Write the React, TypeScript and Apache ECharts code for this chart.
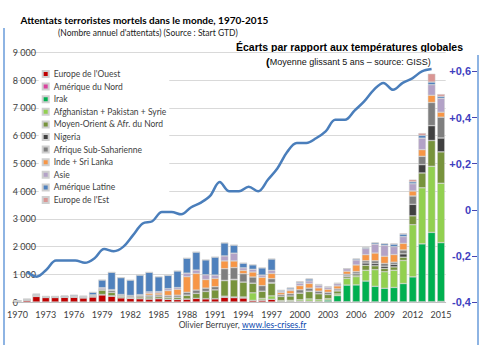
import React, { useEffect, useRef } from 'react';
import * as echarts from 'echarts';

const years = [
  '1970', '1971', '1972', '1973', '1974', '1975', '1976', '1977', '1978', '1979',
  '1980', '1981', '1982', '1983', '1984', '1985', '1986', '1987', '1988', '1989',
  '1990', '1991', '1992', '1993', '1994', '1995', '1996', '1997', '1998', '1999',
  '2000', '2001', '2002', '2003', '2004', '2005', '2006', '2007', '2008', '2009',
  '2010', '2011', '2012', '2013', '2014', '2015',
];

const seriesNames = [
  "Europe de l'Ouest",
  'Amérique du Nord',
  'Irak',
  'Afghanistan + Pakistan + Syrie',
  'Moyen-Orient & Afr. du Nord',
  'Nigeria',
  'Afrique Sub-Saharienne',
  'Inde + Sri Lanka',
  'Asie',
  'Amérique Latine',
  "Europe de l'Est",
];

const seriesColors = [
  '#C00000', '#D9439E', '#00B050', '#92D050', '#77933C', '#404040',
  '#7F7F7F', '#F79646', '#B3A2C7', '#4F81BD', '#DA9694',
];

const europeOuest = [
  20, 55, 200, 160, 160, 170, 175, 150, 185, 255,
  210, 150, 130, 120, 110, 120, 100, 90, 110, 130,
  120, 120, 170, 160, 150, 60, 70, 100, 20, 20,
  30, 30, 20, 10, 10, 10, 5, 5, 5, 5,
  5, 5, 5, 10, 10, 20,
];
const ameriqueNord = [
  10, 10, 15, 5, 5, 10, 5, 5, 5, 15,
  15, 10, 5, 5, 5, 5, 5, 5, 0, 0,
  0, 0, 10, 0, 0, 0, 0, 0, 0, 0,
  0, 0, 0, 0, 0, 0, 0, 0, 0, 0,
  0, 0, 0, 0, 0, 0,
];
const irak = [
  0, 0, 0, 0, 0, 0, 0, 0, 0, 0,
  0, 0, 0, 0, 0, 0, 0, 0, 0, 0,
  0, 0, 0, 0, 0, 0, 0, 0, 0, 0,
  0, 0, 0, 60, 220, 600, 610, 750, 560, 490,
  520, 660, 900, 2085, 2500, 2120,
];
const afghanPakSyrie = [
  0, 0, 0, 0, 0, 0, 0, 0, 0, 0,
  0, 0, 0, 0, 0, 0, 0, 0, 0, 0,
  0, 0, 30, 20, 30, 270, 60, 120, 30, 40,
  50, 80, 60, 50, 60, 240, 300, 390, 600, 595,
  620, 830, 1880, 2020, 2380, 2140,
];
const moyenOrient = [
  5, 10, 20, 10, 10, 10, 15, 15, 30, 160,
  120, 50, 40, 60, 70, 70, 70, 80, 130, 180,
  260, 320, 560, 620, 540, 350, 260, 460, 150, 160,
  240, 270, 220, 150, 110, 60, 60, 180, 140, 120,
  120, 120, 320, 535, 930, 1130,
];
const nigeria = [
  0, 0, 0, 0, 0, 0, 0, 0, 0, 0,
  0, 0, 0, 0, 0, 0, 0, 0, 10, 0,
  0, 0, 10, 20, 0, 0, 0, 20, 0, 0,
  0, 10, 0, 0, 10, 30, 60, 80, 80, 80,
  90, 120, 415, 300, 535, 500,
];
const afriqueSub = [
  5, 10, 20, 10, 10, 10, 15, 25, 30, 40,
  70, 40, 40, 50, 60, 60, 60, 70, 100, 120,
  120, 110, 420, 420, 300, 220, 200, 140, 60, 80,
  120, 110, 90, 80, 60, 60, 60, 80, 100, 100,
  80, 140, 300, 300, 835, 750,
];
const indeSriLanka = [
  0, 0, 0, 0, 0, 0, 0, 0, 0, 5,
  10, 10, 10, 10, 70, 70, 175, 215, 560, 600,
  310, 300, 280, 240, 120, 180, 300, 190, 80, 110,
  150, 170, 120, 110, 110, 110, 240, 220, 280, 260,
  275, 240, 180, 240, 260, 180,
];
const asie = [
  0, 5, 10, 0, 0, 0, 0, 0, 10, 40,
  20, 10, 10, 20, 50, 50, 70, 60, 130, 120,
  170, 120, 180, 280, 90, 100, 80, 110, 40, 50,
  90, 90, 90, 70, 80, 90, 180, 220, 320, 390,
  285, 240, 260, 415, 380, 500,
];
const ameriqueLatine = [
  15, 20, 25, 20, 20, 25, 40, 20, 90, 280,
  625, 610, 555, 705, 705, 535, 480, 600, 540, 650,
  540, 650, 470, 290, 170, 160, 260, 410, 40, 45,
  40, 70, 25, 20, 15, 5, 40, 40, 50, 60,
  90, 90, 70, 100, 95, 70,
];
const europeEst = [
  0, 0, 0, 0, 0, 0, 0, 0, 0, 0,
  0, 0, 0, 0, 0, 0, 0, 0, 0, 0,
  0, 0, 10, 10, 10, 10, 10, 10, 10, 20,
  30, 20, 20, 20, 15, 5, 15, 15, 15, 15,
  25, 30, 80, 80, 300, 80,
];

const seriesValues = [
  europeOuest, ameriqueNord, irak, afghanPakSyrie, moyenOrient, nigeria,
  afriqueSub, indeSriLanka, asie, ameriqueLatine, europeEst,
];

const tempYears = [
  1971, 1972, 1973, 1974, 1975, 1976, 1977, 1978, 1979, 1980,
  1981, 1982, 1983, 1984, 1985, 1986, 1987, 1988, 1989, 1990,
  1991, 1992, 1993, 1994, 1995, 1996, 1997, 1998, 1999, 2000,
  2001, 2002, 2003, 2004, 2005, 2006, 2007, 2008, 2009, 2010,
  2011, 2012, 2013,
];
const tempValues = [
  -0.27, -0.29, -0.26, -0.22, -0.22, -0.22, -0.23, -0.21, -0.17, -0.18,
  -0.16, -0.11, -0.06, -0.05, -0.01, -0.01, -0.02, 0.01, 0.03, 0.06,
  0.12, 0.08, 0.08, 0.10, 0.08, 0.13, 0.18, 0.25, 0.29, 0.29,
  0.31, 0.34, 0.39, 0.39, 0.43, 0.47, 0.52, 0.55, 0.52, 0.55,
  0.57, 0.60, 0.61,
];

const rightTicks = [-0.4, -0.2, 0, 0.2, 0.4, 0.6];

function measure(text: string, font: string): number {
  const c = document.createElement('canvas').getContext('2d');
  if (!c) return text.length * 4;
  c.font = font;
  return c.measureText(text).width;
}

export default function App() {
  const ref = useRef<HTMLDivElement>(null);

  useEffect(() => {
    document.body.style.margin = '0';
    if (!ref.current) return;
    const chart = echarts.init(ref.current, undefined, { renderer: 'svg' });

    const footFont = '8.5px Lato';
    const foot1 = 'Olivier Berruyer, ';
    const foot2 = 'www.les-crises.fr';
    const w1 = measure(foot1, footFont);
    const w2 = measure(foot2, footFont);
    const footStart = 242.5 - (w1 + w2) / 2;

    const rightFmt = (v: number) => {
      const r = Math.round(v * 10) / 10;
      if (!rightTicks.some((t) => Math.abs(t - v) < 1e-6)) return '';
      if (Math.abs(r) < 1e-9) return '0';
      return (r > 0 ? '+' : '-') + Math.abs(r).toFixed(1).replace('.', ',');
    };

    const option: any = {
      animation: false,
      backgroundColor: '#ffffff',
      textStyle: { fontFamily: 'Lato' },
      grid: [
        { left: 12.8, right: 480 - 445.7, top: 52.25, bottom: 58 },
        { left: 12.8, right: 3, top: 52.25, bottom: 58 },
      ],
      legend: {
        data: seriesNames,
        orient: 'vertical',
        left: 38.7,
        top: 69,
        padding: [0, 3, 0, 3],
        backgroundColor: '#ffffff',
        itemWidth: 6,
        itemHeight: 6,
        itemGap: 2.6,
        icon: 'rect',
        textStyle: { fontSize: 8.5, lineHeight: 10, color: '#404040', fontFamily: 'Lato' },
      },
      xAxis: [
        {
          type: 'category',
          gridIndex: 0,
          data: years,
          axisLine: { lineStyle: { color: '#BFBFBF' } },
          axisTick: { show: false },
          axisLabel: { interval: 2, color: '#404040', fontSize: 9, margin: 8, fontFamily: 'Lato' },
        },
        { type: 'value', gridIndex: 1, min: 1969.512, max: 2017.716, show: false },
      ],
      yAxis: [
        {
          type: 'value',
          gridIndex: 0,
          min: 0,
          max: 9000,
          interval: 1000,
          axisLine: { show: false },
          axisTick: { show: false },
          splitLine: { lineStyle: { color: '#D9D9D9' } },
          axisLabel: {
            inside: true,
            margin: 0,
            color: '#404040',
            fontSize: 9,
            fontFamily: 'Lato',
            padding: [0, 0, 7, 0],
            formatter: (v: number) => (v === 0 ? '0' : `${v / 1000} 000`),
          },
        },
        {
          type: 'value',
          gridIndex: 1,
          position: 'right',
          min: -0.4,
          max: 0.683,
          interval: 0.2,
          splitLine: { show: false },
          axisLine: { show: false },
          axisTick: {
            show: true,
            inside: true,
            length: 5,
            customValues: rightTicks,
            lineStyle: { color: '#4646B4' },
          },
          axisLabel: {
            inside: true,
            margin: 6,
            customValues: rightTicks,
            color: '#3F3FBF',
            fontWeight: 'bold',
            fontFamily: 'Liberation Sans',
            fontSize: 11,
            formatter: rightFmt,
          },
        },
      ],
      series: [
        ...seriesNames.map((name, i) => ({
          name,
          type: 'bar',
          stack: 'total',
          xAxisIndex: 0,
          yAxisIndex: 0,
          barCategoryGap: '20%',
          data: seriesValues[i],
          itemStyle: { color: seriesColors[i], borderColor: '#CFCFCF', borderWidth: 0.5 },
        })),
        {
          name: 'Température',
          type: 'line',
          xAxisIndex: 1,
          yAxisIndex: 1,
          data: tempYears.map((y, i) => [y, tempValues[i]]),
          smooth: 0.35,
          symbol: 'none',
          z: 5,
          lineStyle: { color: '#4A7EBB', width: 2.5 },
        },
      ],
      graphic: [
        { id: 'lb', type: 'line', shape: { x1: 4, y1: 28, x2: 4, y2: 345 }, style: { stroke: '#8EB4E3', lineWidth: 2 } },
        { id: 'rb', type: 'line', shape: { x1: 478, y1: 55, x2: 478, y2: 345 }, style: { stroke: '#8EB4E3', lineWidth: 2 } },
        {
          id: 't1', type: 'text', x: 20.5, y: 20,
          style: {
            text: 'Attentats terroristes mortels dans le monde, 1970-2015',
            font: 'bold 10px Lato', fill: '#000', textAlign: 'left', textVerticalAlign: 'middle',
          },
        },
        {
          id: 't2', type: 'text', x: 58, y: 33.3,
          style: {
            text: "(Nombre annuel d'attentats) (Source : Start GTD)",
            font: '8.5px Lato', fill: '#222', textAlign: 'left', textVerticalAlign: 'middle',
          },
        },
        {
          id: 't3', type: 'text', x: 236, y: 46.7,
          style: {
            text: 'Écarts par rapport aux températures globales',
            font: 'bold 10.5px "Liberation Sans"', fill: '#000', textAlign: 'left', textVerticalAlign: 'middle',
          },
        },
        {
          id: 't4', type: 'text', x: 266, y: 62.3,
          style: {
            text: '{p|(}Moyenne glissant 5 ans – source: GISS)',
            font: '9px "Liberation Sans"', fill: '#111', textAlign: 'left', textVerticalAlign: 'middle',
            rich: { p: { font: 'bold 11px "Liberation Sans"', fill: '#000' } },
          },
        },
        {
          id: 'f1', type: 'text', x: footStart, y: 325,
          style: { text: foot1, font: footFont, fill: '#404040', textAlign: 'left', textVerticalAlign: 'middle' },
        },
        {
          id: 'f2', type: 'text', x: footStart + w1, y: 325,
          style: { text: foot2, font: footFont, fill: '#0645AD', textAlign: 'left', textVerticalAlign: 'middle' },
        },
        {
          id: 'f3', type: 'line',
          shape: { x1: footStart + w1, y1: 329.5, x2: footStart + w1 + w2, y2: 329.5 },
          style: { stroke: '#0645AD', lineWidth: 0.7 },
        },
      ],
    };

    chart.setOption(option);
    return () => chart.dispose();
  }, []);

  return <div ref={ref} style={{ width: 480, height: 360 }} />;
}
